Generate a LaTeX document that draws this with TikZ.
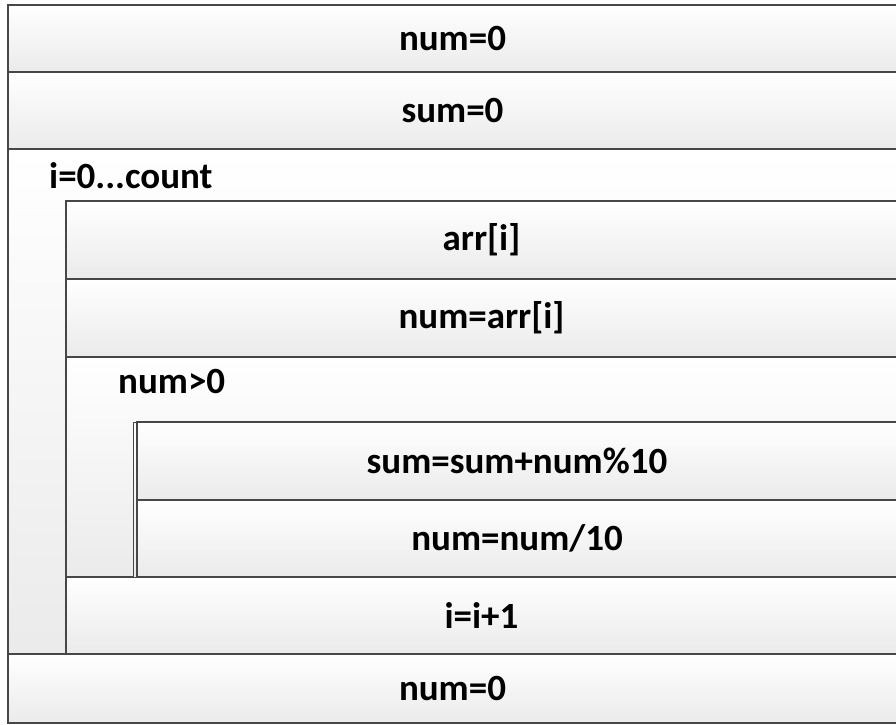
\documentclass[tikz,border=0pt]{standalone}
\usepackage{fontspec}
\setmainfont{Carlito}

\begin{document}
\begin{tikzpicture}[x=1pt,y=-1pt,font=\fontsize{37}{42}\selectfont\bfseries,
 blk/.style={draw=black!72,line width=1.4pt,top color=white,bottom color=black!8,inner sep=0,outer sep=0,anchor=north west,minimum width=#1},
 lbl/.style={anchor=base west,inner sep=0}]
\useasboundingbox (0,0) rectangle (896,724);
% outer sequence
\node[blk=889,minimum height=67] (n0) at (8,5) {num=0};
\node[blk=889,minimum height=77] (s0) at (8,72) {sum=0};
\node[blk=889,minimum height=505] (fori) at (8,149) {}; \node[lbl] (fori-l) at (49,188) {i=0...count};
\node[blk=889,minimum height=69] (n1) at (8,654) {num=0};
% body of the for loop
\node[blk=831,minimum height=78] (arr) at (66,201) {arr[i]};
\node[blk=831,minimum height=78] (numarr) at (66,279) {num=arr[i]};
\node[blk=831,minimum height=220] (wh) at (66,357) {}; \node[lbl] (wh-l) at (118,393) {num>0};
\node[blk=831,minimum height=77] (inc) at (66,577) {i=i+1};
% body of the while loop
\node[blk=764,minimum height=155,line width=1pt] (wh-bk) at (133,422) {};
\node[blk=760,minimum height=78] (add) at (137,422) {sum=sum+num\%10};
\node[blk=760,minimum height=77] (div) at (137,500) {num=num/10};
\end{tikzpicture}
\end{document}
